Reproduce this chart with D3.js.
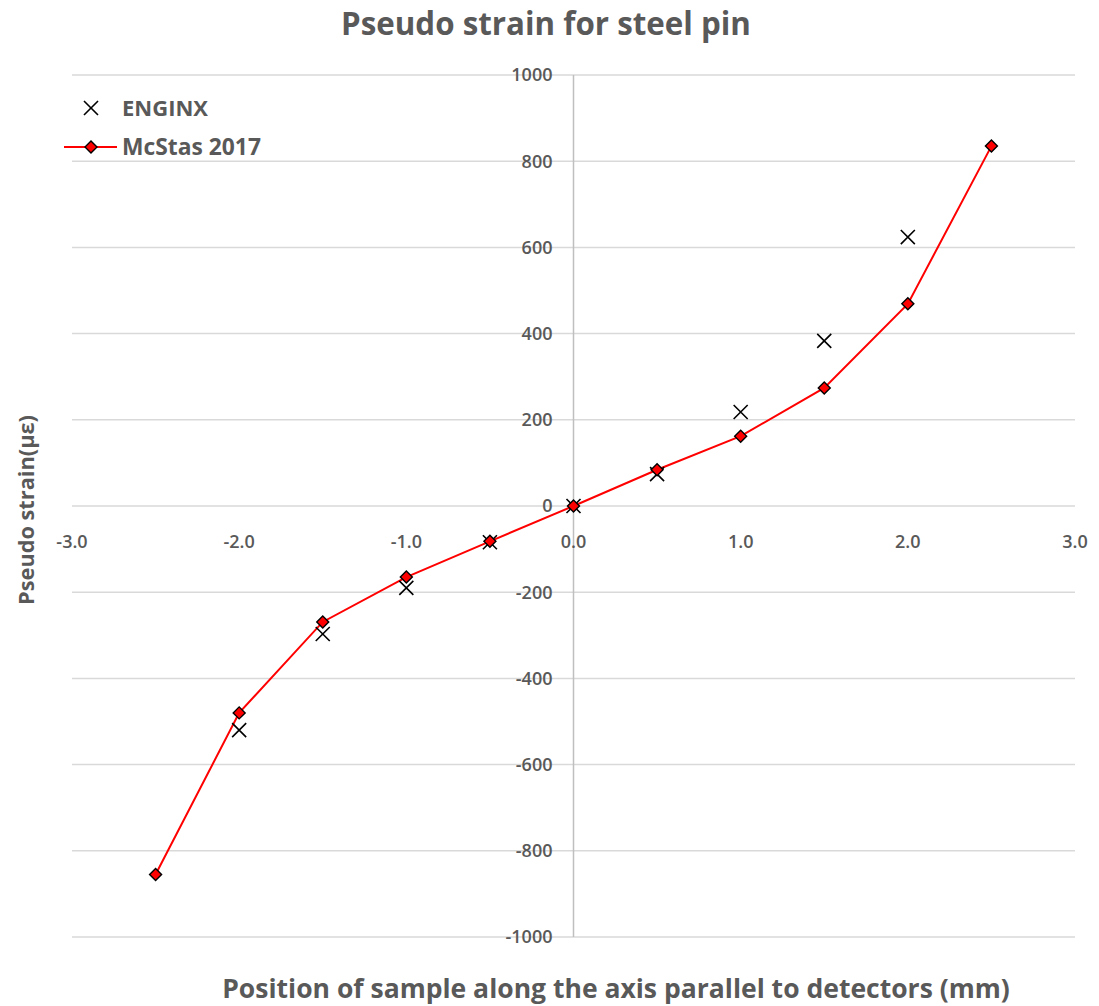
<!DOCTYPE html>
<html>
<head>
<meta charset="utf-8">
<script src="https://cdn.jsdelivr.net/npm/d3@7"></script>
<style>
  body { margin: 0; background: #fff; }
  text { font-family: "Open Sans", "Liberation Sans", sans-serif; fill: #595959; }
</style>
</head>
<body>
<div id="chart"></div>
<script>
// data
const positions = [-2.5, -2.0, -1.5, -1.0, -0.5, 0.0, 0.5, 1.0, 1.5, 2.0, 2.5];
const mcstas = [-855, -480, -269, -165, -82, 0, 84, 162, 274, 469, 835];
const enginxPos = [-2.0, -1.5, -1.0, -0.5, 0.0, 0.5, 1.0, 1.5, 2.0];
const enginx = [-520, -297, -190, -84, 0, 74, 218, 383, 624];
const xTicks = [-3, -2, -1, 0, 1, 2, 3];
const yTicks = [-1000, -800, -600, -400, -200, 0, 200, 400, 600, 800, 1000];

const width = 1099, height = 1006;
const svg = d3.select("#chart").append("svg")
    .attr("width", width)
    .attr("height", height);

const x = d3.scaleLinear().domain([-3, 3]).range([72, 1075]);
const y = d3.scaleLinear().domain([-1000, 1000]).range([937, 75]);

// fit text to a target width
function fit(sel, w) {
    const n = sel.node();
    const fs = parseFloat(sel.attr("font-size"));
    const cur = n.getComputedTextLength();
    sel.attr("font-size", (fs * w / cur).toFixed(2));
}

// horizontal gridlines
svg.append("g").selectAll("line")
    .data(yTicks)
    .join("line")
    .attr("x1", x(-3)).attr("x2", x(3))
    .attr("y1", d => y(d)).attr("y2", d => y(d))
    .attr("stroke", "#d9d9d9")
    .attr("stroke-width", 1.5);

// vertical axis line at x = 0
svg.append("line")
    .attr("x1", x(0)).attr("x2", x(0))
    .attr("y1", y(1000)).attr("y2", y(-1000))
    .attr("stroke", "#bfbfbf")
    .attr("stroke-width", 1.5);

// y tick labels
svg.append("g").selectAll("text")
    .data(yTicks)
    .join("text")
    .attr("x", x(0) - 21)
    .attr("y", d => y(d))
    .attr("dy", "0.35em")
    .attr("text-anchor", "end")
    .attr("font-size", 18)
    .attr("font-weight", 600)
    .text(d => String(d));

// x tick labels below the zero line
svg.append("g").selectAll("text")
    .data(xTicks)
    .join("text")
    .attr("x", d => x(d))
    .attr("y", y(0) + 36)
    .attr("dy", "0.35em")
    .attr("text-anchor", "middle")
    .attr("font-size", 18)
    .attr("font-weight", 600)
    .text(d => d.toFixed(1));

// McStas line
const line = d3.line()
    .x((d, i) => x(positions[i]))
    .y(d => y(d));

svg.append("path")
    .datum(mcstas)
    .attr("fill", "none")
    .attr("stroke", "#ff0000")
    .attr("stroke-width", 2)
    .attr("d", line);

// ENGINX crosses
const cross = d3.symbol().type(d3.symbolTimes).size(130);
svg.append("g").selectAll("path")
    .data(enginx)
    .join("path")
    .attr("transform", (d, i) => `translate(${x(enginxPos[i])},${y(d)})`)
    .attr("d", cross)
    .attr("fill", "none")
    .attr("stroke", "#000")
    .attr("stroke-width", 1.6);

// McStas diamonds
const diamond = d3.symbol().type(d3.symbolSquare).size(72);
svg.append("g").selectAll("path")
    .data(mcstas)
    .join("path")
    .attr("transform", (d, i) => `translate(${x(positions[i])},${y(d)}) rotate(45)`)
    .attr("d", diamond)
    .attr("fill", "#ff0000")
    .attr("stroke", "#000")
    .attr("stroke-width", 1.4);

// legend
const legend = svg.append("g");
legend.append("path")
    .attr("transform", "translate(91,108)")
    .attr("d", cross)
    .attr("fill", "none")
    .attr("stroke", "#000")
    .attr("stroke-width", 1.6);
const l1 = legend.append("text")
    .attr("x", 122).attr("y", 108).attr("dy", "0.35em")
    .attr("font-size", 20).attr("font-weight", 700)
    .text("ENGINX");
fit(l1, 86);
legend.append("line")
    .attr("x1", 64).attr("x2", 117)
    .attr("y1", 147).attr("y2", 147)
    .attr("stroke", "#ff0000").attr("stroke-width", 2);
legend.append("path")
    .attr("transform", "translate(91,147) rotate(45)")
    .attr("d", diamond)
    .attr("fill", "#ff0000")
    .attr("stroke", "#000")
    .attr("stroke-width", 1.4);
const l2 = legend.append("text")
    .attr("x", 122).attr("y", 147).attr("dy", "0.35em")
    .attr("font-size", 20).attr("font-weight", 700)
    .text("McStas 2017");
fit(l2, 139);

// title
const title = svg.append("text")
    .attr("x", 546).attr("y", 35)
    .attr("text-anchor", "middle")
    .attr("font-size", 26).attr("font-weight", 700)
    .text("Pseudo strain for steel pin");
fit(title, 410);

// axis titles
const xt = svg.append("text")
    .attr("x", 616).attr("y", 998)
    .attr("text-anchor", "middle")
    .attr("font-size", 24).attr("font-weight", 700)
    .text("Position of sample along the axis parallel to detectors (mm)");
fit(xt, 788);

const yt = svg.append("text")
    .attr("transform", "translate(34,510) rotate(-90)")
    .attr("text-anchor", "middle")
    .attr("font-size", 20).attr("font-weight", 700)
    .text("Pseudo strain(με)");
fit(yt, 190);
</script>
</body>
</html>
